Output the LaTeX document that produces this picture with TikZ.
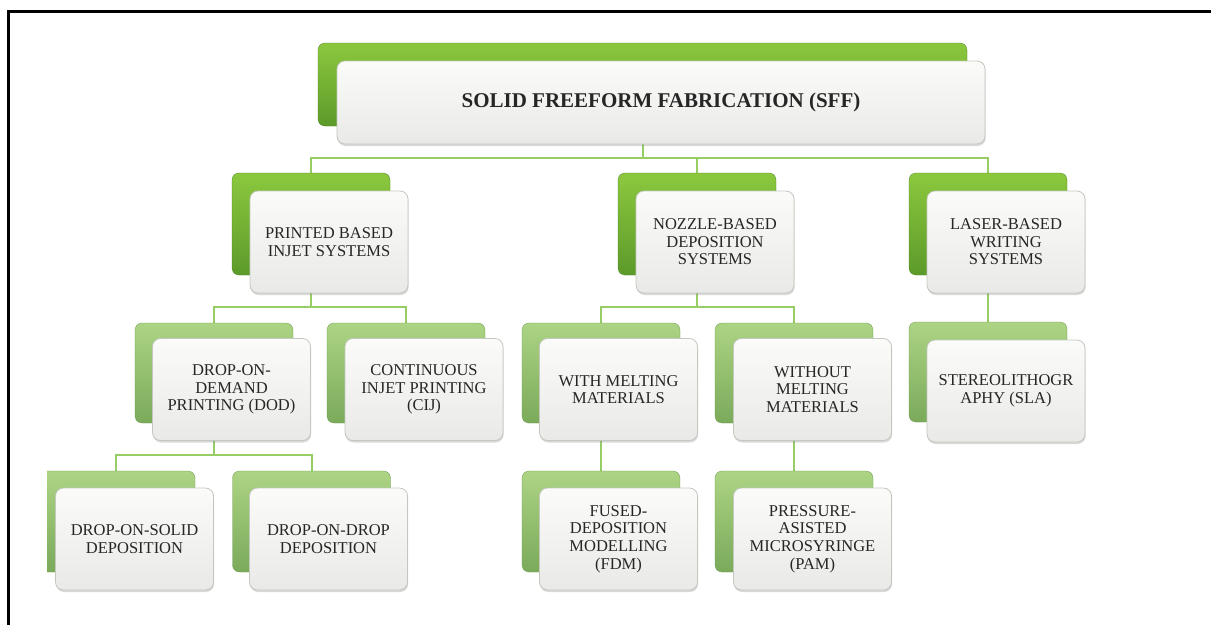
\documentclass[tikz,border=0pt]{standalone}
\usepackage{fontspec}
\setmainfont{Liberation Serif}
\usetikzlibrary{shadows,backgrounds}
\definecolor{gA}{RGB}{140,200,62}
\definecolor{gB}{RGB}{92,154,42}
\definecolor{pA}{RGB}{172,212,132}
\definecolor{pB}{RGB}{122,170,90}
\definecolor{conn}{RGB}{150,205,100}
\definecolor{frontT}{RGB}{251,251,250}
\definecolor{frontB}{RGB}{233,234,231}
\definecolor{edge}{RGB}{195,200,190}
\begin{document}
\begin{tikzpicture}[x=1pt,y=-1pt,
 back/.style={rectangle, rounded corners=7pt, minimum width=158pt, minimum height=102pt, inner sep=0pt},
 vivid/.style={back, top color=gA, bottom color=gB, draw=gB!85!black, line width=0.3pt},
 pale/.style={back, top color=pA, bottom color=pB, draw=pB!90!black, line width=0.3pt},
 front/.style={rectangle, rounded corners=8pt, minimum width=158pt, minimum height=102pt, inner sep=2pt,
   top color=frontT, bottom color=frontB, draw=edge, line width=0.8pt,
   drop shadow={opacity=0.3, shadow xshift=0.6pt, shadow yshift=-2pt},
   align=center, font=\fontsize{16.5}{17.6}\selectfont, text=black!85},
 link/.style={draw=conn, line width=2pt},
 frameline/.style={line width=3pt, black}]
\useasboundingbox (0,0) rectangle (1211,625);
\draw[frameline] (8,625) -- (8,11.5) -- (1211,11.5);

% level 1
\node[vivid, minimum width=649pt, minimum height=83pt] (sffB) at (642.5,84.5) {};
\node[front, minimum width=648pt, minimum height=83pt, font=\fontsize{21}{24}\selectfont\bfseries] (sff) at (661,102.5) {SOLID FREEFORM FABRICATION (SFF)};

% level 2
\node[vivid] (pibB) at (311,224) {};
\node[front] (pib) at (329,242) {PRINTED BASED\\INJET SYSTEMS};
\node[vivid] (nzB) at (697,224) {};
\node[front] (nz) at (715,242) {NOZZLE-BASED\\DEPOSITION\\SYSTEMS};
\node[vivid] (lsB) at (988,224) {};
\node[front] (ls) at (1006,242) {LASER-BASED\\WRITING\\SYSTEMS};

% level 3
\node[pale, minimum height=100pt] (dodB) at (214,373) {};
\node[front] (dod) at (231.5,389.5) {DROP-ON-\\DEMAND\\PRINTING (DOD)};
\node[pale, minimum height=100pt] (cijB) at (406,373) {};
\node[front] (cij) at (424,389.5) {CONTINUOUS\\INJET PRINTING\\(CIJ)};
\node[pale, minimum height=100pt] (wmB) at (601,373) {};
\node[front] (wm) at (618.5,389.5) {WITH MELTING\\MATERIALS};
\node[pale, minimum height=100pt] (womB) at (794,373) {};
\node[front] (wom) at (812.5,389.5) {WITHOUT\\MELTING\\MATERIALS};
\node[pale, minimum height=100pt] (slaB) at (988,372) {};
\node[front] (sla) at (1006,391) {STEREOLITHOGR\\APHY (SLA)};

% level 4
\begin{scope}
\clip (47,0) rectangle (1211,625);
\node[pale, minimum height=101pt] (dosB) at (116,521.5) {};
\end{scope}
\node[front] (dos) at (134.5,539) {DROP-ON-SOLID\\DEPOSITION};
\node[pale, minimum height=101pt] (ddB) at (311.5,521.5) {};
\node[front] (dd) at (328.5,539) {DROP-ON-DROP\\DEPOSITION};
\node[pale, minimum height=101pt] (fdmB) at (601,521.5) {};
\node[front] (fdm) at (618.5,539) {FUSED-\\DEPOSITION\\MODELLING\\(FDM)};
\node[pale, minimum height=101pt] (pamB) at (794,521.5) {};
\node[front] (pam) at (812.5,539) {PRESSURE-\\ASISTED\\MICROSYRINGE\\(PAM)};

% connectors
\coordinate (bus1) at (0,158);
\coordinate (bus2) at (0,307);
\coordinate (bus3) at (0,455);
\begin{scope}[on background layer]
\draw[link] (sffB.center) -- (sffB.center |- bus1) -| (pibB.north);
\draw[link] (sffB.center |- bus1) -| (nzB.north);
\draw[link] (sffB.center |- bus1) -| (lsB.north);
\draw[link] (pibB.center) -- (pibB.center |- bus2) -| (dodB.north);
\draw[link] (pibB.center |- bus2) -| (cijB.north);
\draw[link] (nzB.center) -- (nzB.center |- bus2) -| (wmB.north);
\draw[link] (nzB.center |- bus2) -| (womB.north);
\draw[link] (lsB.center) -- (slaB.north);
\draw[link] (dodB.center) -- (dodB.center |- bus3) -| (dosB.north);
\draw[link] (dodB.center |- bus3) -| (ddB.north);
\draw[link] (wmB.center) -- (fdmB.north);
\draw[link] (womB.center) -- (pamB.north);
\end{scope}
\end{tikzpicture}
\end{document}
